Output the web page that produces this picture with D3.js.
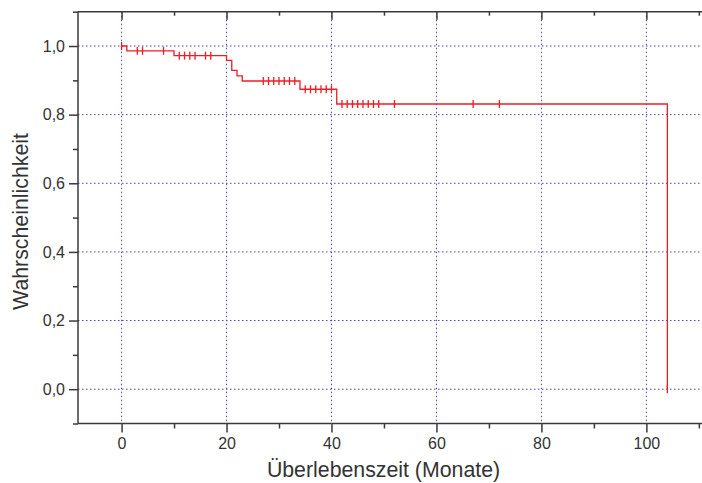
<!DOCTYPE html>
<html>
<head>
<meta charset="utf-8">
<script src="https://cdn.jsdelivr.net/npm/d3@7/dist/d3.min.js"></script>
<style>
  html, body { margin: 0; padding: 0; background: #fff; }
  svg { display: block; }
  text { font-family: "Liberation Sans", Arial, sans-serif; }
</style>
</head>
<body>
<svg id="chart" width="702" height="483"></svg>
<script>
// ---- data ----
const eventTimes = [0, 1, 10, 20, 21, 22, 23, 34, 41, 104];
const survival   = [1.0, 0.986, 0.972, 0.958, 0.929, 0.913, 0.898, 0.874, 0.831, 0.0];
const censorTimes = [0, 3, 4, 8, 11, 12, 13, 14, 16, 17,
                     27, 28, 29, 30, 31, 32, 33,
                     35, 36, 37, 38, 39, 40,
                     42, 43, 44, 45, 46, 47, 48, 49,
                     52, 67, 72, 104];
const xMajorTicks = [0, 20, 40, 60, 80, 100];
const xMinorTicks = [10, 30, 50, 70, 90, 110];
const yMajorTicks = [0.0, 0.2, 0.4, 0.6, 0.8, 1.0];
const yMinorTicks = [-0.1, 0.1, 0.3, 0.5, 0.7, 0.9, 1.1];
const xTitle = "Überlebenszeit (Monate)";
const yTitle = "Wahrscheinlichkeit";

(function () {
// ---- layout ----
const svg = d3.select("#chart");
const pL = 78, pR = 702, pT = 11.7, pB = 423.5;
const x = d3.scaleLinear().domain([-8.3, 110.6]).range([pL, pR]);
const y = d3.scaleLinear().domain([-0.1, 1.1]).range([pB, pT]);

const axisColor = "#3a3a3a";
const gridColor = "#4646b0";
const lineColor = "#ee1c25";

// grid
const grid = svg.append("g");
grid.selectAll("line.gx").data(xMajorTicks).join("line")
  .attr("x1", d => x(d)).attr("x2", d => x(d))
  .attr("y1", pT).attr("y2", pB)
  .attr("stroke", gridColor).attr("stroke-width", 1)
  .attr("stroke-dasharray", "1.5,2.5");
grid.selectAll("line.gy").data(yMajorTicks).join("line")
  .attr("y1", d => y(d)).attr("y2", d => y(d))
  .attr("x1", pL).attr("x2", pR)
  .attr("stroke", gridColor).attr("stroke-width", 1)
  .attr("stroke-dasharray", "1.5,2.5");

// survival curve
const stepData = eventTimes.map((t, i) => [t, survival[i]]);
const line = d3.line().x(d => x(d[0])).y(d => y(d[1])).curve(d3.curveStepAfter);
svg.append("path").datum(stepData)
  .attr("d", line).attr("fill", "none")
  .attr("stroke", lineColor).attr("stroke-width", 1.3);

function S(t) {
  let v = survival[0];
  for (let i = 0; i < eventTimes.length; i++) if (eventTimes[i] <= t) v = survival[i];
  return v;
}
svg.append("g").selectAll("line").data(censorTimes).join("line")
  .attr("x1", d => x(d)).attr("x2", d => x(d))
  .attr("y1", d => y(S(d)) - 4).attr("y2", d => y(S(d)) + 4)
  .attr("stroke", lineColor).attr("stroke-width", 1.3);

// axes
const fmt = d => d3.format(".1f")(d).replace(".", ",");
function styleAxis(g) {
  g.select(".domain").remove();
  g.selectAll(".tick line").attr("stroke", axisColor).attr("stroke-width", 1.5);
  g.selectAll(".tick text").attr("fill", "#333").attr("font-size", 16)
   .attr("font-family", "'Liberation Sans', Arial, sans-serif");
}
// bottom
svg.append("g").attr("transform", `translate(0,${pB})`)
  .call(d3.axisBottom(x).tickValues(xMajorTicks).tickSize(9).tickPadding(5.5).tickFormat(d3.format("d")))
  .call(styleAxis);
svg.append("g").attr("transform", `translate(0,${pB})`)
  .call(d3.axisBottom(x).tickValues(xMinorTicks).tickSize(5).tickFormat(""))
  .call(styleAxis);
// top (inward)
svg.append("g").attr("transform", `translate(0,${pT})`)
  .call(d3.axisBottom(x).tickValues(xMajorTicks).tickSize(8).tickFormat(""))
  .call(styleAxis);
svg.append("g").attr("transform", `translate(0,${pT})`)
  .call(d3.axisBottom(x).tickValues(xMinorTicks).tickSize(4).tickFormat(""))
  .call(styleAxis);
// left
svg.append("g").attr("transform", `translate(${pL},0)`)
  .call(d3.axisLeft(y).tickValues(yMajorTicks).tickSize(9).tickPadding(4).tickFormat(fmt))
  .call(styleAxis);
svg.append("g").attr("transform", `translate(${pL},0)`)
  .call(d3.axisLeft(y).tickValues(yMinorTicks).tickSize(5).tickFormat(""))
  .call(styleAxis);

// axis lines
svg.append("line").attr("x1", pL).attr("x2", pL).attr("y1", pT).attr("y2", pB)
  .attr("stroke", axisColor).attr("stroke-width", 1.5);
svg.append("line").attr("x1", pL).attr("x2", pR).attr("y1", pB).attr("y2", pB)
  .attr("stroke", axisColor).attr("stroke-width", 1.5);
svg.append("line").attr("x1", pL).attr("x2", pR).attr("y1", pT).attr("y2", pT)
  .attr("stroke", axisColor).attr("stroke-width", 1.5);

// titles
svg.append("text").attr("x", 383.5).attr("y", 476.5).attr("text-anchor", "middle")
  .attr("font-size", 21.3).attr("fill", "#333").text(xTitle);
svg.append("text").attr("transform", "translate(28,221.5) rotate(-90)")
  .attr("text-anchor", "middle").attr("font-size", 21.3).attr("fill", "#333").text(yTitle);
})();
</script>
</body>
</html>
